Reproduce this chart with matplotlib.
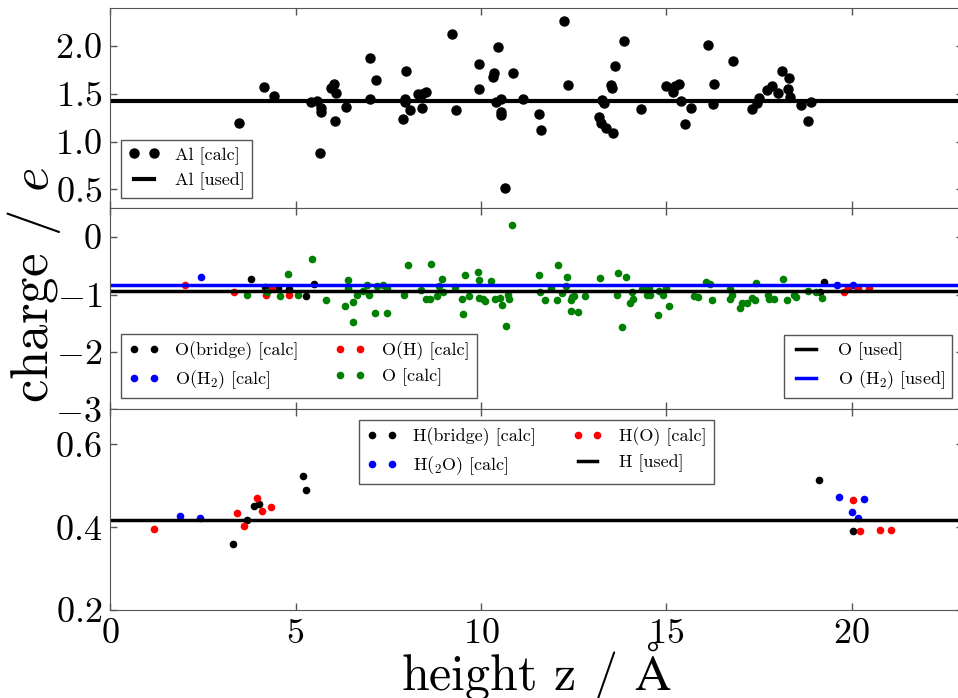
import matplotlib
matplotlib.use("Agg")
import matplotlib.pyplot as plt

plt.rcParams['font.family'] = 'serif'
plt.rcParams['font.serif'] = ['cmr10']
plt.rcParams['mathtext.fontset'] = 'cm'
plt.rcParams['axes.formatter.use_mathtext'] = True

# Al charges
al_z = [3.47, 4.16, 4.42, 5.43, 5.58, 5.68, 5.70, 5.65, 5.95, 6.04, 6.10, 6.06, 6.35, 7.01, 7.02, 7.18,
        7.90, 7.94, 7.95, 7.98, 8.10, 8.31, 8.40, 8.42, 8.51, 9.21, 9.34, 9.95, 9.95, 10.33, 10.36, 10.45,
        10.42, 10.55, 10.53, 10.53, 10.64, 10.87, 11.13, 11.57, 11.61, 12.23, 12.35, 13.18, 13.25, 13.27,
        13.33, 13.37, 13.50, 13.54, 13.57, 13.63, 13.86, 14.32, 15.00, 15.18, 15.23, 15.34, 15.41, 15.50,
        15.66, 16.14, 16.25, 16.28, 16.80, 17.32, 17.46, 17.50, 17.71, 17.85, 18.01, 18.11, 18.28, 18.31,
        18.35, 18.64, 18.83, 18.90]
al_q = [1.19, 1.57, 1.48, 1.41, 1.42, 1.35, 1.31, 0.88, 1.56, 1.60, 1.51, 1.21, 1.36, 1.87, 1.45, 1.64,
        1.24, 1.44, 1.41, 1.74, 1.33, 1.50, 1.35, 1.50, 1.52, 2.12, 1.33, 1.81, 1.55, 1.68, 1.72, 1.99,
        1.41, 1.45, 1.31, 1.28, 0.51, 1.72, 1.44, 1.29, 1.12, 2.26, 1.59, 1.26, 1.19, 1.43, 1.40, 1.14,
        1.59, 1.56, 1.09, 1.79, 2.05, 1.34, 1.58, 1.52, 1.58, 1.60, 1.42, 1.18, 1.35, 2.01, 1.39, 1.60,
        1.84, 1.34, 1.40, 1.46, 1.54, 1.58, 1.51, 1.74, 1.55, 1.66, 1.47, 1.38, 1.21, 1.41]
al_used = 1.42

# O charges
ob_z = [3.80, 4.18, 4.54, 4.83, 5.27, 5.49, 19.15, 19.25]
ob_q = [-0.73, -0.87, -0.89, -0.90, -1.03, -0.82, -0.95, -0.78]
oh_z = [2.02, 3.34, 4.20, 4.36, 4.82, 19.80, 19.90, 20.17, 20.46]
oh_q = [-0.83, -0.96, -1.00, -0.89, -1.00, -0.96, -0.89, -0.88, -0.89]
ow_z = [2.45, 19.60, 20.05]
ow_q = [-0.69, -0.83, -0.83]
o_z = [3.69, 4.24, 4.57, 4.81, 5.07, 5.44, 5.81, 6.42, 6.42, 6.34, 6.54, 6.54, 6.67, 6.81, 6.92, 6.97,
       7.14, 7.20, 7.37, 7.47, 7.47, 7.92, 8.03, 8.39, 8.52, 8.62, 8.65, 8.82, 8.88, 8.96, 8.97, 9.31,
       9.50, 9.52, 9.57, 9.67, 9.93, 9.94, 9.95, 10.05, 10.11, 10.28, 10.39, 10.51, 10.58, 10.67, 10.72,
       10.75, 10.85, 11.57, 11.59, 11.72, 11.88, 12.05, 12.07, 12.20, 12.29, 12.32, 12.43, 12.46, 12.52,
       12.43, 12.63, 12.80, 13.22, 13.69, 13.92, 13.67, 13.80, 14.09, 14.03, 14.11, 14.34, 14.47, 14.54,
       14.56, 14.79, 14.81, 14.92, 15.00, 15.08, 15.75, 15.86, 16.06, 16.19, 16.23, 16.71, 16.71, 16.78,
       16.98, 17.05, 17.18, 17.32, 17.40, 17.43, 17.74, 17.77, 17.91, 18.15, 18.26, 18.45, 18.51, 18.83,
       19.05, 19.21]
o_q = [-1.00, -0.95, -1.02, -0.64, -1.00, -0.38, -1.10, -0.74, -0.88, -1.20, -1.13, -1.48, -1.01, -0.94,
       -0.83, -1.00, -1.32, -0.86, -0.83, -1.33, -0.89, -1.01, -0.48, -0.92, -1.08, -1.07, -0.46, -1.03,
       -0.85, -0.73, -0.96, -0.87, -1.07, -1.34, -0.66, -1.02, -0.61, -0.75, -1.06, -1.07, -1.11, -0.76,
       -1.07, -1.06, -1.18, -1.55, -1.00, -1.07, 0.21, -0.66, -0.95, -1.09, -0.89, -1.10, -0.48, -0.97,
       -0.85, -0.70, -1.10, -1.04, -1.03, -1.29, -1.30, -1.02, -0.71, -0.62, -0.70, -1.01, -1.56, -0.95,
       -1.14, -1.07, -0.90, -1.01, -0.89, -1.01, -1.36, -0.94, -1.01, -0.88, -1.20, -1.03, -1.05, -0.79,
       -0.82, -1.09, -0.90, -1.07, -1.01, -1.24, -1.14, -1.15, -1.06, -1.10, -0.80, -1.00, -1.07, -1.07,
       -0.73, -1.10, -1.01, -1.04, -0.94, -0.95, -1.06]
o_used = -0.94
ow_used = -0.83

# H charges
hb_z = [3.32, 3.68, 3.89, 4.02, 5.21, 5.27, 19.12, 20.05]
hb_q = [0.359, 0.417, 0.452, 0.456, 0.523, 0.491, 0.513, 0.392]
hw_z = [1.89, 2.41, 19.65, 20.33, 20.00, 20.18]
hw_q = [0.428, 0.422, 0.474, 0.469, 0.438, 0.422]
ho_z = [1.17, 3.42, 3.61, 3.95, 4.09, 4.34, 20.05, 20.23, 20.76, 21.05]
ho_q = [0.396, 0.435, 0.403, 0.470, 0.440, 0.449, 0.466, 0.391, 0.393, 0.394]
h_used = 0.418

fig, (ax1, ax2, ax3) = plt.subplots(3, 1, sharex=True, figsize=(9.58, 6.98), dpi=100)
fig.subplots_adjust(left=0.115, right=1.005, top=0.989, bottom=0.126, hspace=0)

ms = 6.5
leg_kw = dict(fontsize=13, numpoints=2, handlelength=1.7, handletextpad=0.9,
              labelspacing=0.45, fancybox=False, framealpha=1, borderaxespad=0.6)

ax1.plot(al_z, al_q, 'o', color='k', ms=ms, label='Al [calc]')
ax1.axhline(al_used, color='k', lw=3, label='Al [used]')
ax1.set_ylim(0.3, 2.4)
ax1.set_yticks([0.5, 1.0, 1.5, 2.0])
leg = ax1.legend(loc='lower left', **leg_kw)
leg.get_frame().set_edgecolor('#555555')

p1, = ax2.plot(ob_z, ob_q, 'o', color='k', ms=5.5, mec='none', label='O(bridge) [calc]')
p2, = ax2.plot(ow_z, ow_q, 'o', color='b', ms=5.5, mec='none', label='O(H$_2$) [calc]')
p3, = ax2.plot(oh_z, oh_q, 'o', color='r', ms=5.5, mec='none', label='O(H) [calc]')
p4, = ax2.plot(o_z, o_q, 'o', color='g', ms=5.5, mec='none', label='O [calc]')
l1 = ax2.axhline(o_used, color='k', lw=2.5, label='O [used]')
l2 = ax2.axhline(ow_used, color='b', lw=2.5, label='O (H$_2$) [used]')
ax2.set_ylim(-3, 0.5)
ax2.set_yticks([-3, -2, -1, 0])
leg_a = ax2.legend([p1, p2, p3, p4], [h.get_label() for h in (p1, p2, p3, p4)],
                   loc='lower left', ncol=2, columnspacing=2.0, **leg_kw)
leg_a.get_frame().set_edgecolor('#555555')
ax2.add_artist(leg_a)
leg_b = ax2.legend([l1, l2], [l1.get_label(), l2.get_label()], loc='lower right', **leg_kw)
leg_b.get_frame().set_edgecolor('#555555')

q1, = ax3.plot(hb_z, hb_q, 'o', color='k', ms=5.5, mec='none', label='H(bridge) [calc]')
q2, = ax3.plot(hw_z, hw_q, 'o', color='b', ms=5.5, mec='none', label='H($_2$O) [calc]')
q3, = ax3.plot(ho_z, ho_q, 'o', color='r', ms=5.5, mec='none', label='H(O) [calc]')
q4 = ax3.axhline(h_used, color='k', lw=2.5, label='H [used]')
ax3.set_ylim(0.2, 0.685)
ax3.set_yticks([0.2, 0.4, 0.6])
leg = ax3.legend([q1, q2, q3, q4], [h.get_label() for h in (q1, q2, q3, q4)],
                 loc='upper center', ncol=2, columnspacing=2.0, **leg_kw)
leg.get_frame().set_edgecolor('#555555')

ax3.set_xlim(0, 23)
ax3.set_xticks([0, 5, 10, 15, 20])

for ax in (ax1, ax2, ax3):
    ax.tick_params(direction='in', top=True, right=True, length=5, width=1,
                   color='#555555', labelsize=26, pad=6)
    for s in ax.spines.values():
        s.set_color('#555555')

fig.text(536 / 958, 1 - 690 / 698, r'height z / $\mathrm{\AA}$', fontsize=36,
         ha='center', va='baseline')
fig.text(0.035, 1 - 285 / 698, 'charge / $e$', rotation=90, fontsize=38,
         ha='center', va='center')

fig.savefig('out.png', dpi=100)
